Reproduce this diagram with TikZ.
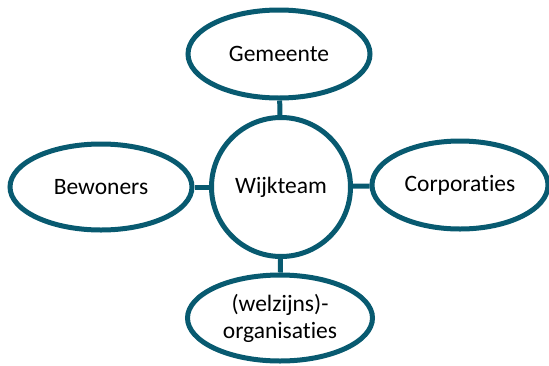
\documentclass[tikz,border=0pt]{standalone}
\usepackage{fontspec}
\setmainfont[RawFeature=-liga]{Carlito}
\usetikzlibrary{shapes.geometric}
\definecolor{teal}{RGB}{8,90,112}
\begin{document}
\begin{tikzpicture}[x=1pt,y=-1pt,
  bubble/.style={ellipse,draw=teal,line width=5pt,fill=white,inner sep=0pt,
    font=\fontsize{23.5}{27}\selectfont,align=center},
  hub/.style={circle,draw=teal,line width=5pt,fill=white,inner sep=0pt,
    minimum size=139pt,font=\fontsize{23.5}{27}\selectfont},
  link/.style={draw=teal,line width=5pt}]
\useasboundingbox (0,0) rectangle (549,365);
\node[hub] (wijk) at (281,187) {Wijkteam};
\node[bubble,minimum width=182pt,minimum height=88pt] (gem) at (279,54) {Gemeente};
\node[bubble,minimum width=182pt,minimum height=86pt] (bew) at (101,187) {Bewoners};
\node[bubble,minimum width=176pt,minimum height=88pt] (corp) at (460,185) {Corporaties};
\node[bubble,minimum width=185pt,minimum height=86pt] (org) at (280,318) {(welzijns)-\\organisaties};
\draw[link] (gem) -- (wijk);
\draw[link] (bew) -- (wijk);
\draw[link] (corp) -- (wijk);
\draw[link] (org) -- (wijk);
\end{tikzpicture}
\end{document}
